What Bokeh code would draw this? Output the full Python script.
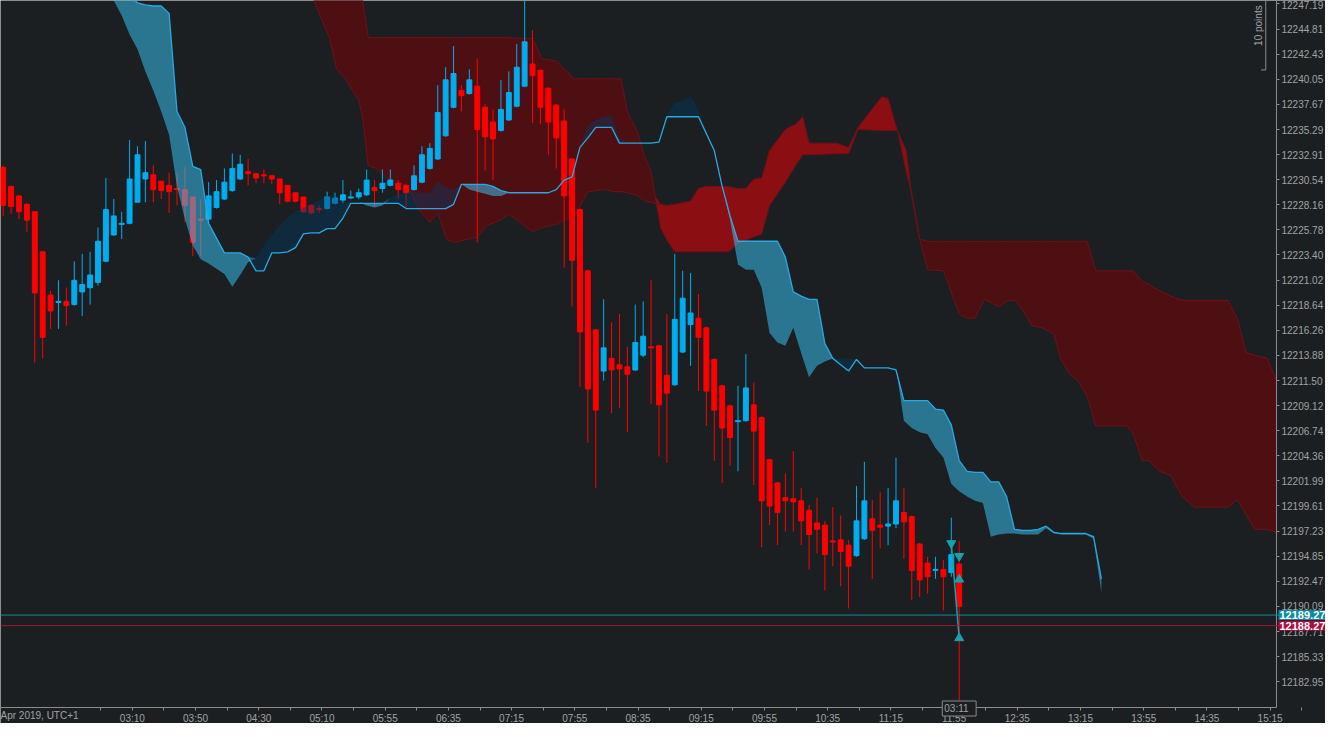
import numpy as np
from bokeh.plotting import figure
from bokeh.models import Range1d, FixedTicker, PrintfTickFormatter, Span, Label
from bokeh.embed import file_html
from bokeh.resources import INLINE

# ---------------- data ----------------
opens = [12231.7, 12229.9, 12229.0, 12228.2, 12227.5, 12223.7, 12219.6, 12218.9, 12219.0, 12218.7,
         12219.9, 12220.3, 12220.8, 12222.8, 12225.3, 12226.3, 12226.4, 12228.4, 12230.6, 12231.0,
         12230.4, 12230.0, 12229.7, 12229.6, 12228.9, 12226.8, 12226.8, 12227.9, 12228.7, 12229.5,
         12230.6, 12231.3, 12231.1, 12231.0, 12230.9, 12230.6, 12230.0, 12229.3, 12228.9, 12228.1,
         12227.8, 12227.8, 12228.3, 12228.6, 12228.8, 12228.9, 12229.1, 12229.8, 12229.7, 12230.0,
         12230.2, 12230.0, 12229.6, 12230.3, 12231.6, 12232.5, 12234.7, 12237.4, 12239.0, 12238.7,
         12239.4, 12237.4, 12236.0, 12235.2, 12236.2, 12237.5, 12239.4, 12241.5, 12240.9, 12239.2,
         12237.6, 12236.1, 12232.5, 12227.7, 12221.9, 12216.3, 12212.4, 12213.6, 12213.0, 12212.8,
         12212.5, 12213.9, 12214.7, 12214.8, 12212.0, 12211.1, 12214.2, 12216.8, 12217.4, 12216.5,
         12213.5, 12211.0, 12209.1, 12207.6, 12207.7, 12209.2, 12208.0, 12204.0, 12201.8, 12200.4,
         12200.3, 12200.1, 12199.2, 12198.0, 12197.8, 12196.3, 12196.4, 12195.9, 12194.9, 12196.5,
         12198.4, 12197.8, 12197.7, 12197.9, 12199.0, 12198.6, 12196.0, 12194.2, 12193.5, 12193.6,
         12193.3, 12194.1]
highs = [12231.9, 12230.0, 12229.1, 12228.3, 12227.5, 12223.8, 12220.0, 12221.0, 12220.3, 12222.8,
         12223.5, 12223.7, 12226.0, 12230.7, 12228.7, 12227.5, 12234.3, 12233.7, 12234.2, 12231.9,
         12230.4, 12231.2, 12231.2, 12231.8, 12228.9, 12228.7, 12230.3, 12230.5, 12231.6, 12233.0,
         12232.9, 12232.5, 12231.2, 12231.5, 12231.0, 12230.7, 12230.0, 12229.3, 12228.9, 12228.2,
         12228.1, 12229.4, 12229.3, 12230.5, 12229.5, 12229.7, 12231.5, 12230.5, 12231.5, 12231.5,
         12230.5, 12230.1, 12231.9, 12233.7, 12234.0, 12239.5, 12241.2, 12243.2, 12239.5, 12241.0,
         12242.0, 12237.7, 12237.2, 12240.0, 12240.8, 12243.4, 12248.0, 12244.7, 12241.0, 12239.3,
         12237.7, 12237.2, 12232.6, 12227.8, 12222.0, 12216.4, 12219.2, 12217.0, 12217.8, 12214.7,
         12218.7, 12219.0, 12221.0, 12214.9, 12217.8, 12223.5, 12221.9, 12221.7, 12219.7, 12216.6,
         12213.6, 12211.1, 12209.2, 12211.0, 12214.0, 12211.3, 12208.1, 12204.1, 12201.9, 12202.7,
         12204.8, 12201.3, 12199.7, 12200.4, 12198.2, 12199.5, 12198.7, 12196.4, 12201.5, 12203.8,
         12200.2, 12200.9, 12201.3, 12204.2, 12201.3, 12198.7, 12196.1, 12194.8, 12194.8, 12194.5,
         12198.5, 12196.3]
lows = [12227.1, 12227.3, 12226.8, 12225.6, 12213.2, 12213.6, 12216.4, 12216.4, 12216.7, 12218.6,
        12217.6, 12218.7, 12220.5, 12222.7, 12225.2, 12224.9, 12226.3, 12228.4, 12228.4, 12228.4,
        12228.7, 12227.4, 12228.1, 12226.5, 12223.3, 12223.3, 12226.7, 12227.8, 12228.6, 12229.4,
        12230.5, 12230.0, 12230.2, 12230.2, 12230.1, 12228.2, 12228.4, 12228.4, 12227.4, 12227.2,
        12227.4, 12227.7, 12228.2, 12228.3, 12228.7, 12228.7, 12229.0, 12228.0, 12229.3, 12229.9,
        12228.7, 12227.9, 12229.5, 12230.2, 12231.5, 12232.4, 12234.6, 12237.3, 12237.0, 12238.6,
        12224.6, 12231.4, 12230.5, 12235.1, 12236.1, 12237.4, 12239.3, 12235.9, 12235.8, 12232.9,
        12231.6, 12222.2, 12218.5, 12210.9, 12205.6, 12201.3, 12211.5, 12208.4, 12208.9, 12206.6,
        12212.4, 12213.7, 12209.3, 12204.3, 12203.7, 12211.0, 12214.1, 12212.9, 12210.5, 12207.2,
        12203.9, 12201.8, 12203.4, 12202.9, 12207.6, 12201.6, 12195.7, 12197.8, 12195.9, 12197.2,
        12197.2, 12195.9, 12193.6, 12195.1, 12191.6, 12193.9, 12192.0, 12189.9, 12194.8, 12196.4,
        12192.7, 12195.6, 12195.9, 12197.5, 12194.6, 12190.7, 12191.0, 12191.3, 12192.7, 12189.7,
        12192.9, 12181.2]
closes = [12228.1, 12228.0, 12227.5, 12226.7, 12219.8, 12215.6, 12218.1, 12219.0, 12218.6, 12221.0,
          12220.6, 12221.5, 12224.7, 12227.7, 12227.1, 12226.4, 12230.6, 12232.9, 12231.2, 12229.6,
          12229.5, 12229.4, 12229.6, 12228.1, 12224.6, 12226.7, 12229.0, 12229.4, 12230.3, 12231.6,
          12232.0, 12231.1, 12230.7, 12230.9, 12230.6, 12229.3, 12228.5, 12228.5, 12227.5, 12227.4,
          12227.7, 12228.9, 12228.8, 12229.1, 12228.9, 12229.3, 12230.5, 12229.5, 12230.2, 12230.5,
          12229.6, 12229.3, 12230.9, 12232.9, 12233.5, 12236.9, 12240.0, 12240.6, 12238.5, 12240.0,
          12235.3, 12234.6, 12234.4, 12237.2, 12238.8, 12241.2, 12243.6, 12240.4, 12237.4, 12236.0,
          12234.5, 12229.0, 12222.9, 12216.1, 12210.7, 12208.7, 12214.6, 12212.5, 12212.6, 12212.1,
          12215.1, 12215.7, 12214.6, 12209.2, 12210.3, 12217.3, 12219.3, 12217.9, 12215.6, 12210.5,
          12208.7, 12207.0, 12206.1, 12207.7, 12210.8, 12206.7, 12200.1, 12199.6, 12199.0, 12200.1,
          12200.0, 12198.2, 12196.9, 12197.4, 12195.0, 12196.2, 12195.3, 12193.9, 12198.2, 12200.1,
          12197.3, 12197.6, 12197.9, 12200.1, 12198.1, 12193.5, 12192.6, 12192.9, 12193.6, 12192.9,
          12195.0, 12190.1]

# fast cloud (blue): bright-line span and the other span
blue_x = list(range(13, 140))
blue_line = [12250.3, 12249.8, 12248.9, 12248.0, 12247.3, 12247.1, 12247.0, 12247.0, 12246.3, 12237.0,
             12235.5, 12231.8, 12231.5, 12226.4, 12225.0, 12223.6, 12223.6, 12223.6, 12223.2, 12221.9,
             12221.9, 12223.6, 12223.6, 12223.7, 12224.1, 12225.4, 12225.5, 12225.5, 12225.9, 12225.9,
             12226.9, 12228.3, 12228.3, 12228.3, 12228.3, 12228.3, 12228.3, 12228.3, 12227.8, 12227.8,
             12227.8, 12227.8, 12227.8, 12227.8, 12228.2, 12230.1, 12230.1, 12230.1, 12230.1, 12229.9,
             12229.5, 12229.3, 12229.3, 12229.3, 12229.3, 12229.3, 12229.3, 12229.6, 12230.5, 12230.8,
             12233.6, 12234.5, 12235.5, 12235.5, 12235.5, 12234.0, 12234.0, 12234.0, 12234.0, 12234.0,
             12234.1, 12236.5, 12236.5, 12236.5, 12236.5, 12236.5, 12234.9, 12233.3, 12229.9, 12227.1,
             12224.7, 12224.7, 12224.7, 12224.7, 12224.7, 12224.7, 12223.2, 12219.9, 12219.5, 12219.2,
             12219.2, 12215.0, 12213.6, 12213.0, 12212.4, 12213.5, 12212.7, 12212.7, 12212.7, 12212.7,
             12212.5, 12209.6, 12209.6, 12209.6, 12209.6, 12208.8, 12208.7, 12207.3, 12203.9, 12202.9,
             12202.8, 12202.8, 12201.9, 12201.9, 12200.5, 12197.4, 12197.3, 12197.3, 12197.4, 12197.7,
             12197.1, 12197.0, 12197.0, 12197.0, 12197.0, 12196.7, 12192.7]
blue_other = [12248.6, 12247.5, 12246.1, 12244.3, 12242.9, 12240.8, 12239.0, 12237.0, 12234.8, 12229.9,
              12226.8, 12224.3, 12223.0, 12222.6, 12222.1, 12221.6, 12220.4, 12221.5, 12222.7, 12223.1,
              12224.3, 12225.3, 12226.2, 12226.9, 12227.5, 12227.9, 12228.2, 12228.6, 12229.0, 12228.9,
              12228.4, 12228.4, 12228.4, 12228.1, 12227.9, 12228.1, 12228.8, 12229.2, 12229.3, 12229.4,
              12229.3, 12229.3, 12230.4, 12229.8, 12229.6, 12230.1, 12229.6, 12229.4, 12229.2, 12229.0,
              12229.0, 12229.3, 12229.3, 12229.3, 12229.3, 12229.3, 12229.3, 12229.6, 12230.6, 12231.0,
              12233.6, 12235.7, 12236.2, 12236.5, 12236.6, 12234.5, 12234.0, 12234.0, 12234.0, 12234.0,
              12234.1, 12236.5, 12237.9, 12238.0, 12238.5, 12237.1, 12234.9, 12233.3, 12229.9, 12226.7,
              12222.5, 12222.0, 12222.0, 12220.3, 12216.0, 12215.1, 12214.8, 12216.5, 12214.1, 12211.8,
              12212.9, 12213.3, 12213.6, 12213.6, 12213.6, 12213.5, 12212.7, 12212.7, 12212.7, 12212.7,
              12212.7, 12207.7, 12207.0, 12206.6, 12206.4, 12205.1, 12204.2, 12201.7, 12201.0, 12200.5,
              12200.1, 12199.9, 12196.7, 12196.9, 12197.0, 12197.0, 12196.9, 12196.9, 12196.9, 12197.5,
              12197.0, 12196.9, 12196.9, 12196.9, 12196.9, 12196.5, 12191.4]

# slow cloud (red): span A and span B
red_x = [39.3, 41.3, 42.2, 43, 45, 45.5, 46.2, 47.2, 48.7, 50, 51.3, 52.5, 54, 55, 56.2, 57.2, 60, 61.2,
         63, 64, 67, 68.2, 70, 71.2, 72.2, 74, 76.2, 77.2, 78.2, 79, 80.3, 81.2, 82, 82.5, 83.2, 84, 85,
         87, 88, 89, 91.8, 93, 94, 95, 96, 97, 99, 100.3, 101.2, 102, 105.4, 107, 108.2, 111.2, 112,
         113.2, 114.3, 115, 116, 117, 119, 121, 122, 123, 124.2, 125.2, 126, 127.2, 128, 129, 130.2,
         131.5, 133, 133.8, 135, 136, 137.2, 138.3, 142.2, 143, 144.2, 145, 146.4, 147.8, 149.2, 150.8,
         155, 156.2, 157.3, 158.4, 160, 161.16]
red_a = [12253.1, 12251.7, 12250.8, 12249.8, 12248.3, 12247.5, 12244.0, 12244.0, 12244.0, 12244.0,
         12244.0, 12244.0, 12244.0, 12244.0, 12244.0, 12244.0, 12244.0, 12244.0, 12244.0, 12244.0,
         12243.9, 12242.0, 12241.8, 12240.9, 12240.1, 12240.1, 12240.1, 12240.1, 12240.1, 12237.0,
         12235.0, 12232.7, 12231.3, 12229.0, 12226.0, 12224.8, 12223.7, 12223.7, 12223.7, 12223.7,
         12223.7, 12224.5, 12224.8, 12225.1, 12225.4, 12228.1, 12230.3, 12231.9, 12232.9, 12232.9,
         12233.0, 12233.0, 12235.3, 12235.2, 12235.2, 12235.2, 12231.3, 12229.2, 12224.9, 12224.7,
         12224.7, 12224.7, 12224.7, 12224.7, 12224.7, 12224.7, 12224.7, 12224.7, 12224.7, 12224.7,
         12224.7, 12224.7, 12224.7, 12224.7, 12224.7, 12224.7, 12224.7, 12221.9, 12221.9, 12221.9,
         12220.9, 12220.6, 12220.0, 12219.5, 12219.1, 12219.1, 12219.1, 12217.4, 12214.2, 12213.9,
         12213.6, 12211.5]
red_b = [12247.5, 12244.0, 12241.0, 12240.4, 12238.1, 12236.4, 12231.9, 12231.6, 12230.6, 12230.3,
         12229.9, 12227.8, 12226.5, 12227.4, 12224.8, 12224.6, 12225.1, 12226.2, 12226.7, 12227.3,
         12225.6, 12226.0, 12226.3, 12226.8, 12226.9, 12229.4, 12229.6, 12229.4, 12229.4, 12229.3,
         12229.0, 12228.5, 12228.4, 12228.3, 12228.2, 12228.1, 12228.2, 12228.5, 12229.7, 12229.9,
         12229.9, 12229.7, 12229.7, 12230.6, 12230.7, 12233.3, 12235.3, 12235.8, 12236.5, 12234.0,
         12234.0, 12233.6, 12235.5, 12238.4, 12238.2, 12235.1, 12233.3, 12229.0, 12224.9, 12222.0,
         12221.9, 12217.8, 12217.4, 12217.4, 12219.2, 12218.8, 12218.5, 12219.1, 12219.1, 12218.2,
         12216.7, 12216.5, 12215.9, 12213.6, 12212.1, 12211.5, 12210.0, 12207.2, 12207.2, 12206.5,
         12203.9, 12203.9, 12202.9, 12202.5, 12200.5, 12199.5, 12199.5, 12200.2, 12198.8, 12197.4,
         12197.4, 12197.1]

price_ticks = [12247.19, 12244.81, 12242.43, 12240.05, 12237.67, 12235.29, 12232.91, 12230.54,
               12228.16, 12225.78, 12223.40, 12221.02, 12218.64, 12216.26, 12213.88, 12211.50,
               12209.12, 12206.74, 12204.36, 12201.99, 12199.61, 12197.23, 12194.85, 12192.47,
               12190.09, 12187.71, 12185.33, 12182.95]
time_labels = ["03:10", "03:50", "04:30", "05:10", "05:55", "06:35", "07:15", "07:55", "08:35",
               "09:15", "09:55", "10:35", "11:15", "11:55", "12:35", "13:15", "13:55", "14:35", "15:15"]
first_label_bar = 16.35
bars_per_label = 8

trade_down_bars = [120, 121]
trade_down_prices = [12196.07, 12194.87]
trade_up_bars = [121, 121]
trade_up_prices = [12192.65, 12187.09]

ask_price = 12189.27
bid_price = 12188.27

# ---------------- layout / style ----------------
BG = "#1b1f22"
AX = "#8a8d8f"
TXT = "#a0a3a5"
UP = "#00aeef"
DN = "#ff0000"
W, H = 1325, 723
PLOT_W, PLOT_H = 1276, 707          # data area; the rest holds the axis labels
X0, XA = -0.34, 161.16              # visible bar range up to the price axis
YA, Y1 = 12180.51, 12247.52         # visible price range down to the time axis
XR = X0 + (XA - X0) * W / PLOT_W
YB = Y1 - (Y1 - YA) * H / PLOT_H

p = figure(width=W, height=H, x_range=Range1d(X0, XR), y_range=Range1d(YB, Y1),
           output_backend="svg", toolbar_location=None, y_axis_location="right",
           min_border=0, background_fill_color=BG, border_fill_color=BG)
p.outline_line_color = None
p.grid.visible = False

tick_pos = [first_label_bar + bars_per_label * k for k in range(len(time_labels))]
minor_pos = [t - bars_per_label / 2 for t in tick_pos] + [tick_pos[-1] + bars_per_label / 2]
p.xaxis.ticker = FixedTicker(ticks=tick_pos, minor_ticks=minor_pos)
p.xaxis.major_label_overrides = {t: lab for t, lab in zip(tick_pos, time_labels)}
p.yaxis.ticker = FixedTicker(ticks=price_ticks, minor_ticks=[])
p.yaxis.formatter = PrintfTickFormatter(format="%.2f")
p.xaxis.fixed_location = YA
p.yaxis.fixed_location = XA
p.xaxis.bounds = (X0, XA)
p.yaxis.bounds = (YA, Y1)

for ax in (p.xaxis[0], p.yaxis[0]):
    ax.axis_line_color = AX
    ax.major_tick_line_color = AX
    ax.minor_tick_line_color = AX
    ax.major_tick_in = 0
    ax.major_tick_out = 3
    ax.minor_tick_in = 0
    ax.minor_tick_out = 3
    ax.major_label_text_color = TXT
    ax.major_label_text_font = "Liberation Sans"
    ax.major_label_text_font_size = "10px"
    ax.major_label_standoff = 2

# red cloud (below candles)
rx = np.array(red_x)
ra = np.array(red_a)
rb = np.array(red_b)
rtop = np.maximum(ra, rb)
p.varea(x=rx, y1=rb, y2=rtop, fill_color="#4e0f13")   # span A above span B
p.varea(x=rx, y1=ra, y2=rtop, fill_color="#8b0e12")   # span B above span A
p.line(rx, ra, line_color="#6e1117", line_width=1)
p.line(rx, rb, line_color="#6e1117", line_width=1)

# candles
o = np.array(opens); h = np.array(highs); l = np.array(lows); c = np.array(closes)
idx = np.arange(len(o))
cols = [UP if cc > oo else DN for oo, cc in zip(o, c)]
p.segment(x0=idx, y0=l, x1=idx, y1=np.minimum(h, Y1), line_color=cols, line_width=1)
p.vbar(x=idx, width=0.62, top=np.maximum(o, c), bottom=np.minimum(o, c),
       fill_color=cols, line_color=cols, line_width=1)

# blue cloud (over candles, translucent)
bx = np.array(blue_x)
bl = np.array(blue_line)
bo = np.array(blue_other)
btop = np.maximum(bl, bo)
p.varea(x=bx, y1=bo, y2=btop, fill_color="#39cbfe", fill_alpha=0.5)
p.varea(x=bx, y1=bl, y2=btop, fill_color="#05375f", fill_alpha=0.45)
p.line(bx, bl, line_color="#2aa8e2", line_width=1.3)

# bid / ask lines
p.add_layout(Span(location=ask_price, dimension="width", line_color="#138a9c", line_width=1))
p.add_layout(Span(location=bid_price, dimension="width", line_color="#a3143a", line_width=1))

# trade markers
TEAL = "#17a2ad"
p.line([trade_down_bars[0], trade_up_bars[-1]], [trade_down_prices[0], trade_up_prices[-1]],
       line_color=TEAL, line_width=1.5)
p.scatter(trade_down_bars, trade_down_prices, marker="inverted_triangle", size=9,
          fill_color=TEAL, line_color=TEAL)
p.scatter(trade_up_bars, trade_up_prices, marker="triangle", size=9,
          fill_color=TEAL, line_color=TEAL)

# 10 points scale bar (top right)
sb_x = 159.8
sb_bottom = 12240.94
p.segment(x0=[sb_x, sb_x - 0.6], y0=[sb_bottom, sb_bottom], x1=[sb_x, sb_x], y1=[sb_bottom + 10, sb_bottom],
          line_color=AX, line_width=1)
p.add_layout(Label(x=sb_x - 0.9, y=sb_bottom + 4.2, text="10 points", angle=np.pi / 2,
                   text_align="center", text_baseline="middle", text_color=TXT,
                   text_font="Liberation Sans", text_font_size="10px"))

# price boxes on the right axis
p.add_layout(Label(x=XA, y=ask_price, x_offset=2, text=f"{ask_price:.2f}", text_align="left",
                   text_baseline="middle", text_color="white", text_font="Liberation Sans",
                   text_font_size="11px", text_font_style="bold",
                   background_fill_color="#0b8aa0", padding=1))
p.add_layout(Label(x=XA, y=bid_price, x_offset=2, text=f"{bid_price:.2f}", text_align="left",
                   text_baseline="middle", text_color="white", text_font="Liberation Sans",
                   text_font_size="11px", text_font_style="bold",
                   background_fill_color="#b10a3d", padding=1))

# bottom-left date label and cursor time box
p.add_layout(Label(x=X0, y=YA, y_offset=-8, text="Apr 2019, UTC+1", text_align="left",
                   text_baseline="middle", text_color=TXT, text_font="Liberation Sans",
                   text_font_size="10px"))
p.add_layout(Label(x=121, y=YA, y_offset=-1, text=" 03:11 ", text_align="center",
                   text_baseline="middle", text_color=TXT, text_font="Liberation Sans",
                   text_font_size="10px", background_fill_color=BG, border_line_color="#8a8a8a",
                   padding=2))

open("out.html", "w").write(file_html(p, INLINE))
